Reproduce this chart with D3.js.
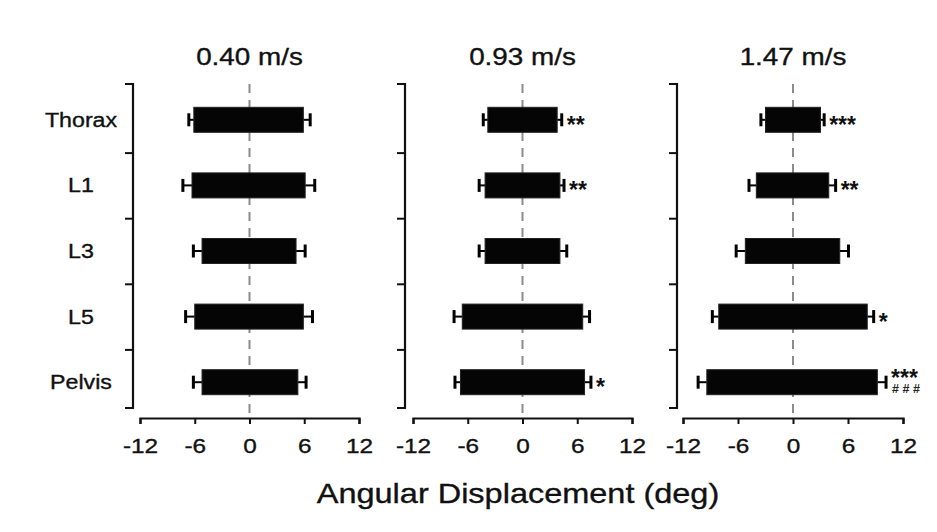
<!DOCTYPE html>
<html>
<head>
<meta charset="utf-8">
<script src="https://cdn.jsdelivr.net/npm/d3@7"></script>
<style>
  html, body { margin: 0; padding: 0; background: #fff; }
  svg { display: block; font-family: "Liberation Sans", Arial, sans-serif; }
</style>
</head>
<body>
<svg id="chart" width="937" height="532"></svg>
<script>
// Walking speeds (one panel each) and spinal segments (rows)
const speeds = ["0.40 m/s", "0.93 m/s", "1.47 m/s"];
const segments = ["Thorax", "L1", "L3", "L5", "Pelvis"];
const xTicks = [-12, -6, 0, 6, 12];

// Mean minimum (negative) and maximum (positive) angular displacement, deg
const minMean = [
  [-6.1, -6.3, -5.2, -6.0, -5.2],
  [-3.8, -4.1, -4.1, -6.6, -6.8],
  [-3.0, -4.0, -5.2, -8.1, -9.4]
];
const maxMean = [
  [5.9, 6.1, 5.1, 5.9, 5.3],
  [3.8, 4.1, 4.1, 6.6, 6.8],
  [3.0, 3.9, 5.1, 8.1, 9.2]
];
// Standard deviations drawn outward from each bar end
const minSD = [
  [0.55, 1.0, 0.95, 1.0, 0.95],
  [0.5, 0.65, 0.65, 0.9, 0.6],
  [0.5, 0.8, 1.0, 0.7, 0.95]
];
const maxSD = [
  [0.75, 1.05, 1.0, 1.0, 0.9],
  [0.5, 0.45, 0.75, 0.75, 0.7],
  [0.4, 0.75, 0.95, 0.7, 0.95]
];
// Significance markers
const starMarks = [
  ["", "", "", "", ""],
  ["**", "**", "", "", "*"],
  ["***", "**", "", "*", "***"]
];
const hashMarks = [
  ["", "", "", "", ""],
  ["", "", "", "", ""],
  ["", "", "", "", "# # #"]
];

const svg = d3.select("#chart");
const STRETCH = 1.16;   // typeface is drawn slightly wide

// panel geometry
const axisXs = [133, 405, 677];
const xRanges = [[140, 359], [413, 632], [683, 903]];
const plotTop = 84, plotBottom = 408, xAxisY = 418;

const y = d3.scaleBand().domain(segments).range([87, 415]).padding(0);
const yTicks = d3.scaleLinear().domain([0, segments.length]).range([87, 415]);
const barH = 25;

function wideText(g, x, yy, txt, size, anchor) {
  return g.append("g").attr("transform", `translate(${x},${yy})`)
    .append("text")
    .attr("transform", `scale(${STRETCH},1)`)
    .attr("text-anchor", anchor || "middle")
    .attr("font-size", size)
    .attr("fill", "#111")
    .attr("stroke", "#111").attr("stroke-width", 0.35)
    .text(txt);
}

speeds.forEach((speed, p) => {
  const g = svg.append("g");
  const x = d3.scaleLinear().domain([-12, 12]).range(xRanges[p]);
  const ax = axisXs[p];

  // panel title
  wideText(g, x(0), 65, speed, 24);

  // zero reference line
  g.append("line")
    .attr("x1", x(0)).attr("x2", x(0))
    .attr("y1", plotTop).attr("y2", xAxisY)
    .attr("stroke", "#8c8c8c").attr("stroke-width", 2)
    .attr("stroke-dasharray", "9,7");

  // y axis: bracket with ticks between segments
  const yAxis = g.append("g").attr("transform", `translate(${ax},0)`)
    .call(d3.axisLeft(yTicks).tickValues([1, 2, 3, 4]).tickSize(8).tickFormat(""));
  yAxis.select(".domain").remove();
  yAxis.selectAll(".tick line").attr("stroke", "#111").attr("stroke-width", 2);
  g.append("path")
    .attr("d", `M${ax - 8},${plotTop}H${ax}V${plotBottom}H${ax - 8}`)
    .attr("fill", "none").attr("stroke", "#111").attr("stroke-width", 2.2);

  // x axis
  const xAxis = g.append("g").attr("transform", `translate(0,${xAxisY})`)
    .call(d3.axisBottom(x).tickValues(xTicks).tickSize(6).tickSizeOuter(6)
      .tickFormat(d => String(d)));
  xAxis.select(".domain").attr("stroke", "#111").attr("stroke-width", 2.2);
  xAxis.selectAll(".tick line").attr("stroke", "#111").attr("stroke-width", 2);
  xAxis.selectAll(".tick text")
    .attr("y", 35).attr("dy", null)
    .attr("transform", `scale(${STRETCH},1)`)
    .attr("font-size", 21)
    .attr("fill", "#111")
    .attr("stroke", "#111").attr("stroke-width", 0.35)
    .attr("font-family", "Liberation Sans, Arial, sans-serif");

  // bars, error bars, markers
  segments.forEach((seg, i) => {
    const cy = y(seg) + y.bandwidth() / 2;
    const lo = minMean[p][i], hi = maxMean[p][i];
    const loE = lo - minSD[p][i], hiE = hi + maxSD[p][i];

    g.append("line").attr("x1", x(lo)).attr("x2", x(loE)).attr("y1", cy).attr("y2", cy)
      .attr("stroke", "#000").attr("stroke-width", 2);
    g.append("line").attr("x1", x(loE)).attr("x2", x(loE)).attr("y1", cy - 6.5).attr("y2", cy + 6.5)
      .attr("stroke", "#000").attr("stroke-width", 3);
    g.append("line").attr("x1", x(hi)).attr("x2", x(hiE)).attr("y1", cy).attr("y2", cy)
      .attr("stroke", "#000").attr("stroke-width", 2);
    g.append("line").attr("x1", x(hiE)).attr("x2", x(hiE)).attr("y1", cy - 6.5).attr("y2", cy + 6.5)
      .attr("stroke", "#000").attr("stroke-width", 3);

    g.append("rect")
      .attr("x", x(lo)).attr("width", x(hi) - x(lo))
      .attr("y", cy - barH / 2).attr("height", barH)
      .attr("fill", "#050505").attr("stroke", "#222").attr("stroke-width", 1);

    // significance marker, with a second line of "#" under the stars where present
    const sx = x(hiE) + 5;
    const hasHash = !!hashMarks[p][i];
    if (starMarks[p][i]) {
      const mark = g.append("text")
        .attr("font-weight", "bold").attr("fill", "#111");
      mark.append("tspan")
        .attr("x", sx).attr("y", cy + (hasHash ? 4 : 13))
        .attr("font-size", 23)
        .text(starMarks[p][i]);
      if (hasHash) {
        mark.append("tspan")
          .attr("x", sx + 1).attr("y", cy + 11)
          .attr("font-size", 12.5).attr("fill", "#222")
          .text(hashMarks[p][i]);
      }
    }
  });

  // segment labels on the first panel
  if (p === 0) {
    segments.forEach(seg => {
      wideText(g, 81, y(seg) + y.bandwidth() / 2 + 7, seg, 20);
    });
  }
});

// shared axis title
wideText(svg, 518, 503, "Angular Displacement (deg)", 28);
</script>
</body>
</html>
